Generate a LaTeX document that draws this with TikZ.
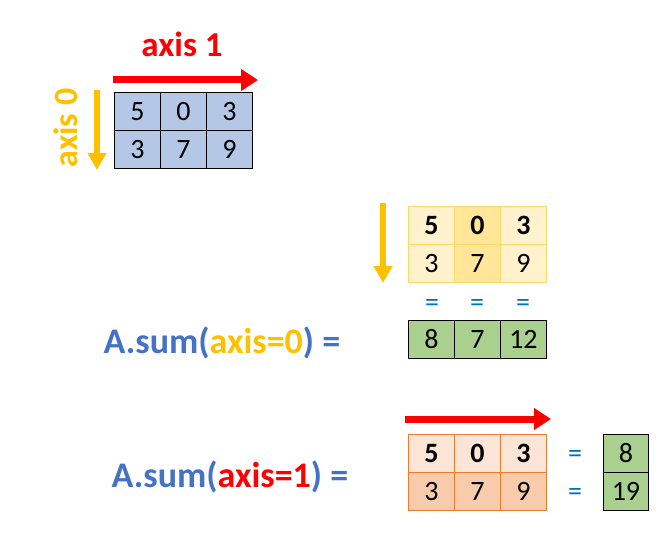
\documentclass[tikz,border=0pt]{standalone}
\usepackage{fontspec}
\setmainfont{Carlito}
\usetikzlibrary{arrows.meta}
\definecolor{cblue}{HTML}{B4C7E7}
\definecolor{cyel}{HTML}{FFF2CC}
\definecolor{cyel2}{HTML}{FFE699}
\definecolor{cyelb}{HTML}{FFD966}
\definecolor{cor1}{HTML}{FCE4D6}
\definecolor{cor2}{HTML}{F8CBAD}
\definecolor{corb}{HTML}{ED7D31}
\definecolor{cgreen}{HTML}{A9D08E}
\definecolor{corange}{HTML}{FFC000}
\definecolor{ctext}{HTML}{4472C4}
\definecolor{ceq}{HTML}{0070C0}
\tikzset{
  cell/.style={draw=black, line width=0.9pt, minimum width=46pt, minimum height=38pt, inner sep=0pt, font=\fontsize{28}{28}\selectfont, anchor=north west},
  bcell/.style={cell, font=\fontsize{28}{28}\selectfont\bfseries},
  redarrow/.style={draw=red, line width=7pt, -{Triangle[length=17pt,width=21pt]}},
  orarrow/.style={draw=corange, line width=6pt, -{Triangle[length=17pt,width=18pt]}},
  eqsign/.style={text=ceq, font=\fontsize{28}{28}\selectfont},
  sumlabel/.style={font=\fontsize{36}{36}\selectfont\bfseries, text=ctext, inner sep=0pt}
}
\begin{document}
\begin{tikzpicture}[x=1pt,y=-1pt]
\useasboundingbox (0,0) rectangle (670,543);
% top grid
\node[cell, fill=cblue] (a1) at (114,92) {5};
\node[cell, fill=cblue] (a2) at (160,92) {0};
\node[cell, fill=cblue] (a3) at (206,92) {3};
\node[cell, fill=cblue] (a4) at (114,130) {3};
\node[cell, fill=cblue] (a5) at (160,130) {7};
\node[cell, fill=cblue] (a6) at (206,130) {9};
\coordinate (r1s) at (113,80);
\coordinate (r1e) at (258,80);
\draw[redarrow] (r1s) -- (r1e);
\node[text=red, font=\fontsize{35}{35}\selectfont\bfseries] (ax1) at (182,44) {axis 1};
\coordinate (o1s) at (97,90);
\coordinate (o1e) at (97,170);
\draw[orarrow] (o1s) -- (o1e);
\node[text=corange, font=\fontsize{34}{34}\selectfont\bfseries, rotate=90] (ax0) at (66,128) {axis 0};
% middle
\node[bcell, fill=cyel, draw=cyelb] (b1) at (408,206) {5};
\node[bcell, fill=cyel2, draw=cyelb] (b2) at (454,206) {0};
\node[bcell, fill=cyel, draw=cyelb] (b3) at (500,206) {3};
\node[cell, fill=cyel, draw=cyelb] (b4) at (408,244) {3};
\node[cell, fill=cyel2, draw=cyelb] (b5) at (454,244) {7};
\node[cell, fill=cyel, draw=cyelb] (b6) at (500,244) {9};
\coordinate (o2s) at (383,203);
\coordinate (o2e) at (383,283);
\draw[orarrow] (o2s) -- (o2e);
\node[eqsign] (e1) at (432,305) {=};
\node[eqsign] (e2) at (477,305) {=};
\node[eqsign] (e3) at (523,305) {=};
\node[cell, fill=cgreen] (c1) at (408,320) {8};
\node[cell, fill=cgreen] (c2) at (454,320) {7};
\node[cell, fill=cgreen] (c3) at (500,320) {12};
\node[sumlabel] (s0) at (222,343) {A.sum(\textcolor{corange}{axis=0}) =};
% bottom
\coordinate (r2s) at (405,419);
\coordinate (r2e) at (551,419);
\draw[redarrow] (r2s) -- (r2e);
\node[bcell, fill=cor1, draw=corb] (d1) at (408,434) {5};
\node[bcell, fill=cor1, draw=corb] (d2) at (454,434) {0};
\node[bcell, fill=cor1, draw=corb] (d3) at (500,434) {3};
\node[cell, fill=cor2, draw=corb] (d4) at (408,472) {3};
\node[cell, fill=cor2, draw=corb] (d5) at (454,472) {7};
\node[cell, fill=cor2, draw=corb] (d6) at (500,472) {9};
\node[eqsign] (e4) at (575,456) {=};
\node[eqsign] (e5) at (575,494) {=};
\node[cell, fill=cgreen, minimum width=45pt] (f1) at (603,434) {8};
\node[cell, fill=cgreen, minimum width=45pt] (f2) at (603,472) {19};
\node[sumlabel] (s1) at (230,477) {A.sum(\textcolor{red}{axis=1}) =};
\end{tikzpicture}
\end{document}
